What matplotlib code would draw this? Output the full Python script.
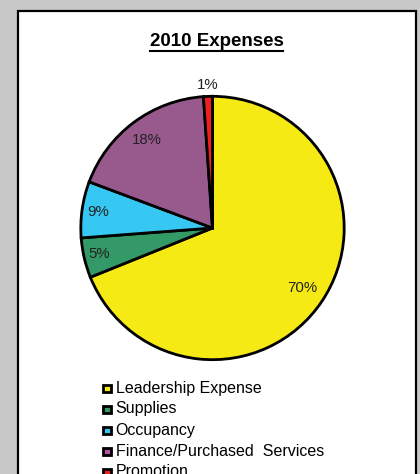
import matplotlib
matplotlib.use("Agg")
import matplotlib.pyplot as plt
from matplotlib.patches import Rectangle
import numpy as np

# Data
categories = ["Leadership Expense", "Supplies", "Occupancy",
              "Finance/Purchased  Services", "Promotion"]
values = [68.9, 4.9, 6.9, 18.2, 1.1]
pct_labels = ["70%", "5%", "9%", "18%", "1%"]
colors = ["#F5EA14", "#339966", "#36C8F2", "#985A8D", "#EE2020"]
legend_colors = ["#F5EA14", "#339966", "#36C8F2", "#B452A0", "#EE2020"]
label_r = [0.82, 0.88, 0.88, 0.83, 1.09]

W, H = 420, 474
fig = plt.figure(figsize=(W / 100, H / 100), dpi=100)
fig.patch.set_facecolor("#C8C8C8")

def fx(px):
    return px / W

def fy(py):
    return 1 - py / H

# white panel
panel = Rectangle((fx(18), fy(490)), fx(416) - fx(18), fy(11) - fy(490),
                  transform=fig.transFigure, facecolor="white",
                  edgecolor="black", linewidth=1.6, zorder=-5)
fig.patches.append(panel)

# title
t = fig.text(fx(216.5), fy(41), "2010 Expenses", ha="center", va="center",
             fontsize=13.5, fontweight="bold", family="Liberation Sans",
             color="black")
fig.canvas.draw()
bb = t.get_window_extent()
fig.lines.append(plt.Line2D([bb.x0 / W, bb.x1 / W],
                            [(bb.y0 - 1.5) / H, (bb.y0 - 1.5) / H],
                            transform=fig.transFigure, color="black", lw=1.5))

# pie
cx, cy, r = 212.5, 228, 133
ax = fig.add_axes([fx(cx - r), fy(cy + r), 2 * r / W, 2 * r / H])
wedges, _ = ax.pie(values, colors=colors, startangle=90, counterclock=False,
                   wedgeprops=dict(edgecolor="black", linewidth=2.0))
ax.set_xlim(-1.01, 1.01)
ax.set_ylim(-1.01, 1.01)
ax.axis("off")
for w, lab, rr in zip(wedges, pct_labels, label_r):
    ang = np.deg2rad((w.theta1 + w.theta2) / 2)
    ax.text(rr * np.cos(ang), rr * np.sin(ang), lab, ha="center", va="center",
            fontsize=10.8, family="Liberation Sans", color="#222222")

# legend
y0, step = 388, 21
for i, (name, col) in enumerate(zip(categories, legend_colors)):
    yc = y0 + i * step
    sq = Rectangle((fx(103), fy(yc + 4)), fx(7.5), 7.5 / H,
                   transform=fig.transFigure, facecolor=col,
                   edgecolor="black", linewidth=2.0)
    fig.patches.append(sq)
    fig.text(fx(115.5), fy(yc), name, ha="left", va="center", fontsize=11.5,
             family="Liberation Sans", color="black")

fig.savefig("out.png", dpi=100, facecolor=fig.get_facecolor())
